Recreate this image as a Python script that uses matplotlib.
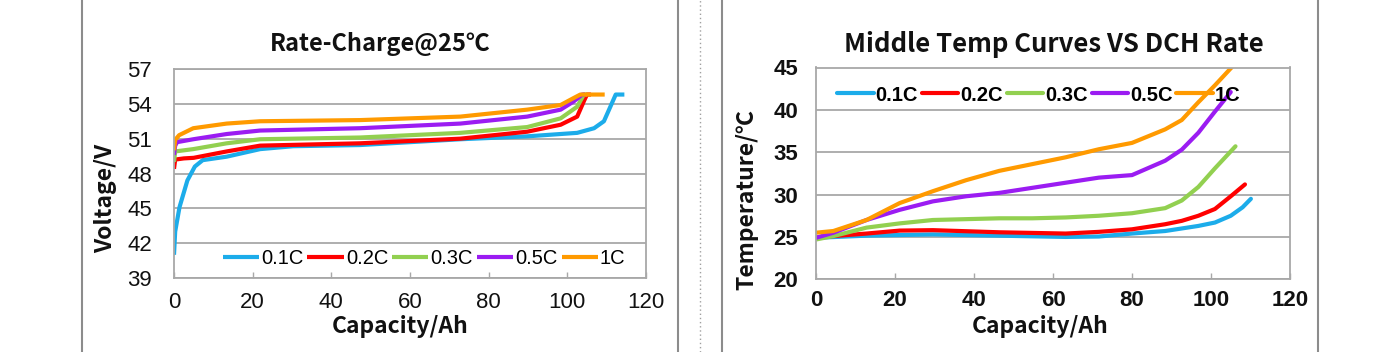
import matplotlib
matplotlib.use("Agg")
import matplotlib.pyplot as plt
from matplotlib.lines import Line2D

# ---------------- data: Rate-Charge@25℃ ----------------
series_labels = ["0.1C", "0.2C", "0.3C", "0.5C", "1C"]
colors = ["#1CACEA", "#FF0000", "#92D050", "#9B1CF2", "#FF9A00"]

chg_cap_01 = [0, 0.3, 1.4, 3.4, 5.3, 7.3, 13.4, 21.9, 30.3, 47.3, 72.8, 89.8, 102.5, 106.8, 109.3, 111.0, 112.3, 114.5]
chg_v_01 = [41.0, 43.0, 45.1, 47.4, 48.6, 49.15, 49.45, 50.1, 50.35, 50.45, 50.95, 51.2, 51.5, 51.9, 52.5, 53.8, 54.8, 54.8]
chg_cap_02 = [0, 0.3, 2.5, 5.0, 13.4, 21.9, 47.3, 72.8, 89.8, 98.3, 102.5, 104.3, 105.0, 106.0]
chg_v_02 = [48.4, 49.2, 49.3, 49.35, 49.9, 50.4, 50.6, 51.0, 51.6, 52.2, 52.9, 54.3, 54.8, 54.8]
chg_cap_03 = [0, 0.3, 4.9, 13.4, 21.9, 47.3, 72.8, 89.8, 98.3, 102.5, 104.2, 105.0]
chg_v_03 = [49.0, 49.9, 50.1, 50.6, 50.95, 51.1, 51.5, 52.0, 52.75, 53.75, 54.8, 54.8]
chg_cap_05 = [0, 0.3, 0.8, 4.9, 13.4, 21.9, 47.3, 72.8, 89.8, 98.3, 101.6, 103.8, 104.5]
chg_v_05 = [49.6, 50.4, 50.7, 50.95, 51.4, 51.7, 51.9, 52.3, 52.9, 53.5, 54.2, 54.8, 54.8]
chg_cap_1 = [0, 0.3, 1.3, 4.9, 13.4, 21.9, 47.3, 72.8, 89.8, 98.3, 101.6, 103.3, 109.5]
chg_v_1 = [50.0, 50.9, 51.3, 51.9, 52.3, 52.5, 52.6, 52.9, 53.5, 53.9, 54.5, 54.8, 54.8]

# ---------------- data: Middle Temp Curves VS DCH Rate ----------------
tmp_cap_01 = [0, 12.8, 29.6, 46.4, 63.2, 71.6, 80.0, 88.4, 92.6, 96.8, 101.0, 105.0, 108.0, 110.1]
tmp_t_01 = [24.9, 25.15, 25.3, 25.15, 25.0, 25.05, 25.4, 25.7, 26.0, 26.3, 26.7, 27.5, 28.5, 29.5]
tmp_cap_02 = [0, 4.4, 12.8, 21.2, 29.6, 46.4, 63.2, 71.6, 80.0, 88.4, 92.6, 96.8, 101.0, 105.0, 108.6]
tmp_t_02 = [24.9, 25.1, 25.4, 25.75, 25.8, 25.55, 25.4, 25.6, 25.9, 26.5, 26.9, 27.5, 28.3, 29.8, 31.2]
tmp_cap_03 = [0, 4.4, 12.8, 21.2, 29.6, 38.0, 46.4, 54.8, 63.2, 71.6, 80.0, 88.4, 92.6, 96.8, 101.0, 106.2]
tmp_t_03 = [24.7, 25.1, 26.1, 26.6, 27.0, 27.1, 27.2, 27.2, 27.3, 27.5, 27.8, 28.4, 29.3, 30.9, 33.1, 35.7]
tmp_cap_05 = [0, 4.4, 12.8, 21.2, 29.6, 38.0, 46.4, 54.8, 63.2, 71.6, 80.0, 88.4, 92.6, 96.8, 101.0, 105.0]
tmp_t_05 = [24.9, 25.5, 27.0, 28.2, 29.2, 29.8, 30.2, 30.8, 31.4, 32.0, 32.3, 34.0, 35.3, 37.3, 39.8, 42.1]
tmp_cap_1 = [0, 4.4, 12.8, 21.2, 29.6, 38.0, 46.4, 54.8, 63.2, 71.6, 80.0, 88.4, 92.6, 96.8, 101.0, 105.2, 106.0]
tmp_t_1 = [25.5, 25.7, 27.0, 29.0, 30.4, 31.7, 32.8, 33.6, 34.4, 35.35, 36.1, 37.7, 38.8, 40.9, 42.9, 45.0, 45.5]

x_ticks = [0, 20, 40, 60, 80, 100, 120]
v_ticks = [39, 42, 45, 48, 51, 54, 57]
t_ticks = [20, 25, 30, 35, 40, 45]

left_title = "Rate-Charge@25℃"
right_title = "Middle Temp Curves VS DCH Rate"
x_label = "Capacity/Ah"
v_label = "Voltage/V"
t_label = "Temperature/℃"

# ---------------- figure ----------------
W, H = 1400, 352
fig = plt.figure(figsize=(W / 100, H / 100), dpi=100)
fig.patch.set_facecolor("white")

BOLD = ["Noto Sans CJK SC", "DejaVu Sans"]
REG = ["Liberation Sans", "DejaVu Sans"]
GRID = "#A8A8A8"


def px_axes(x0, y0, x1, y1):
    return fig.add_axes([x0 / W, 1 - y1 / H, (x1 - x0) / W, (y1 - y0) / H])


def style(ax, yticks, bold):
    ax.set_xlim(0, 120)
    ax.set_xticks(x_ticks)
    ax.set_ylim(yticks[0], yticks[-1])
    ax.set_yticks(yticks)
    for s in ax.spines.values():
        s.set_color(GRID)
        s.set_linewidth(1.3)
    ax.grid(axis="y", color=GRID, linewidth=1.3)
    ax.set_axisbelow(True)
    ax.tick_params(axis="x", direction="in", length=4, color=GRID, width=1)
    ax.tick_params(axis="y", length=0)
    for lab in ax.get_xticklabels() + ax.get_yticklabels():
        lab.set_family(REG)
        lab.set_fontsize(16)
        lab.set_fontweight("bold" if bold else "normal")
        lab.set_color("#111111")


# ---------- left chart ----------
ax1 = px_axes(174, 69, 646, 278)
left_series = [(chg_cap_01, chg_v_01), (chg_cap_02, chg_v_02), (chg_cap_03, chg_v_03),
               (chg_cap_05, chg_v_05), (chg_cap_1, chg_v_1)]
for (xc, yv), c, lab in zip(left_series, colors, series_labels):
    ax1.plot(xc, yv, color=c, lw=3.0, label=lab, solid_capstyle="butt")
style(ax1, v_ticks, bold=False)
ax1.tick_params(axis="y", pad=16)
ax1.tick_params(axis="x", pad=10)
leg1 = ax1.legend(loc="center", bbox_to_anchor=(0.53, 0.095), ncol=5, frameon=False,
                  handlelength=1.8, handletextpad=0.1, columnspacing=0.2,
                  prop={"family": REG, "size": 14.5}, borderaxespad=0)

# ---------- right chart ----------
ax2 = px_axes(816, 67.5, 1290, 279.3)
right_series = [(tmp_cap_01, tmp_t_01), (tmp_cap_02, tmp_t_02), (tmp_cap_03, tmp_t_03),
                (tmp_cap_05, tmp_t_05), (tmp_cap_1, tmp_t_1)]
for (xc, yt), c, lab in zip(right_series, colors, series_labels):
    ax2.plot(xc, yt, color=c, lw=3.0, label=lab, solid_capstyle="round")
style(ax2, t_ticks, bold=True)
ax2.tick_params(axis="y", pad=13)
ax2.tick_params(axis="x", pad=8)
leg2 = ax2.legend(loc="center", bbox_to_anchor=(0.47, 0.87), ncol=5, frameon=False,
                  handlelength=1.8, handletextpad=0.1, columnspacing=0.2,
                  prop={"family": REG, "size": 14.5, "weight": "bold"}, borderaxespad=0)

# ---------- titles & axis labels ----------
def ftext(x, y, s, **kw):
    fig.text(x / W, 1 - y / H, s, ha="center", va="center", family=BOLD,
             fontweight="bold", color="#111111", **kw)

ftext(380, 44, left_title, fontsize=17)
ftext(1054, 45, right_title, fontsize=18.5)
ftext(400, 327, x_label, fontsize=16.5)
ftext(1040, 327, x_label, fontsize=16.5)
ftext(106, 198, v_label, fontsize=16.5, rotation=90)
ftext(747, 200, t_label, fontsize=16.5, rotation=90)

# ---------- panel frames and separator ----------
for xp in (82, 678, 722, 1318):
    fig.add_artist(Line2D([xp / W, xp / W], [0, 1], color="#8C8C8C", lw=1.5))
fig.add_artist(Line2D([700 / W, 700 / W], [0, 1], color="#A0A0A0", lw=1.0, ls=(0, (1, 2))))

fig.savefig("out.png", dpi=100, facecolor="white")
